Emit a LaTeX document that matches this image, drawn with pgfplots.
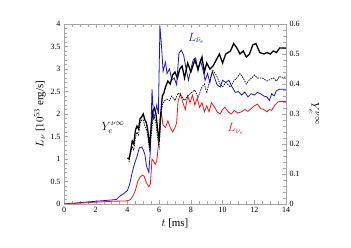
\documentclass[border=0pt]{standalone}
\usepackage{pgfplots}
\pgfplotsset{compat=1.18}
\usepackage{fontspec}
\setmainfont{Liberation Serif}
\definecolor{lblue}{RGB}{20,20,230}
\definecolor{lred}{RGB}{240,20,20}
\begin{document}
\begin{tikzpicture}
\pgfplotsset{
  every axis/.append style={
    scale only axis, width=222bp, height=180bp,
    at={(0,0)}, anchor=south west,
    axis line style={gray!70}, tick style={gray!70},
    tick align=inside,
    ticklabel style={font=\fontsize{8}{9}\selectfont},
    /pgf/number format/assume math mode=true,
    label style={font=\fontsize{11}{12}\selectfont},
  }
}
\begin{axis}[
  xmin=0, xmax=14, ymin=0, ymax=4,
  xtick={0,2,...,14}, minor x tick num=3,
  ytick={0,0.5,...,4}, minor y tick num=4,
  yticklabel style={/pgf/number format/fixed},
  ytick pos=left, xtick pos=both,
  xlabel={$t$ [ms]}, ylabel={$L_\nu$ [$10^{53}$ erg/s]},
  xlabel style={yshift=1pt},
  ylabel style={yshift=-2pt},
]
\addplot[lblue, line width=0.8pt] coordinates {
(0,0) (1,0.03) (2,0.06) (3,0.09) (3.3,0.10) (3.5,0.17) (3.8,0.24) (4.0,0.30)
(4.15,0.45) (4.3,0.70) (4.45,0.90) (4.6,1.05) (4.75,1.25) (4.9,1.27) (5.0,1.2)
(5.1,1.1) (5.2,0.85) (5.35,0.70) (5.45,1.2) (5.55,2.55) (5.65,1.9) (5.75,2.0)
(5.85,2.2) (5.95,2.0) (6.05,3.95) (6.15,3.5) (6.25,2.95) (6.4,3.15) (6.5,2.9)
(6.65,3.0) (6.8,2.75) (6.95,2.8) (7.1,2.65) (7.25,3.35) (7.4,3.42) (7.55,3.3)
(7.7,3.0) (7.85,2.75) (8.0,3.0) (8.15,3.2) (8.3,3.25) (8.45,2.95) (8.6,3.2)
(8.75,3.0) (8.9,2.75) (9.05,2.9) (9.2,2.7) (9.35,2.95) (9.5,2.8) (9.65,2.65)
(9.85,2.6) (10.0,2.75) (10.2,2.7) (10.4,2.75) (10.6,2.6) (10.8,2.48) (11.0,2.5)
(11.2,2.42) (11.4,2.49) (11.6,2.38) (11.8,2.45) (12.0,2.42) (12.2,2.48) (12.4,2.45)
(12.6,2.40) (12.8,2.38) (12.95,2.30) (13.1,2.45) (13.25,2.40) (13.4,2.52)
(13.6,2.55) (13.8,2.55) (14.0,2.55)
};
\addplot[lred, line width=0.8pt] coordinates {
(0,0) (1,0.02) (2,0.04) (3,0.06) (4.0,0.07) (4.2,0.10) (4.35,0.18) (4.5,0.3)
(4.65,0.5) (4.8,0.6) (4.95,0.64) (5.05,0.62) (5.2,0.47) (5.35,0.38) (5.45,0.45)
(5.55,1.0) (5.65,0.95) (5.75,0.88) (5.85,0.95) (5.95,1.3) (6.05,1.9) (6.15,2.0)
(6.25,1.75) (6.4,1.7) (6.55,1.85) (6.7,1.7) (6.85,1.6) (7.0,1.7) (7.1,1.8)
(7.2,2.3) (7.35,2.45) (7.5,2.25) (7.65,2.1) (7.8,2.4) (7.95,2.25) (8.1,2.42)
(8.25,2.2) (8.4,2.35) (8.55,2.15) (8.7,2.25) (8.85,2.05) (9.0,2.18) (9.15,2.05)
(9.3,2.25) (9.5,2.15) (9.65,2.05) (9.85,2.0) (10.0,2.1) (10.15,2.15) (10.35,2.05)
(10.55,2.0) (10.75,2.08) (10.95,2.02) (11.2,2.05) (11.4,2.1) (11.6,2.06)
(11.8,2.12) (12.0,2.18) (12.2,2.22) (12.4,2.12) (12.6,2.1) (12.8,2.05)
(12.95,2.1) (13.1,2.08) (13.3,2.2) (13.5,2.27) (13.7,2.28) (14.0,2.28)
};
\node[lblue, font=\fontsize{12}{13}\selectfont] at (axis cs:8.35,3.68) {$L_{\bar\nu_e}$};
\node[lred, font=\fontsize{12}{13}\selectfont] at (axis cs:10.85,1.66) {$L_{\nu_e}$};
\node[font=\fontsize{12}{13}\selectfont, inner sep=1pt] at (axis cs:3.1,1.7) {$Y_e^{\nu\infty}$};
\end{axis}
\begin{axis}[
  xmin=0, xmax=14, ymin=0, ymax=0.6, clip=false,
  axis x line=none, axis y line*=right,
  ytick={0,0.1,...,0.6}, minor y tick num=4,
  yticklabel style={/pgf/number format/fixed, /pgf/number format/precision=1},
]
\addplot[black, line width=1.3pt] coordinates {
(4.0,0.153) (4.1,0.150) (4.2,0.175) (4.3,0.21) (4.4,0.20) (4.5,0.245) (4.6,0.26)
(4.7,0.25) (4.8,0.285) (4.9,0.29) (5.0,0.30) (5.1,0.28) (5.2,0.27) (5.3,0.24)
(5.4,0.19) (5.5,0.26) (5.6,0.31) (5.7,0.32) (5.8,0.30) (5.9,0.25) (6.0,0.21)
(6.1,0.30) (6.2,0.36) (6.3,0.37) (6.4,0.39) (6.55,0.41) (6.7,0.40) (6.85,0.43)
(7.0,0.44) (7.15,0.42) (7.3,0.45) (7.45,0.46) (7.6,0.42) (7.8,0.47) (8.0,0.44)
(8.25,0.48) (8.45,0.45) (8.7,0.49) (8.85,0.44) (9.0,0.47) (9.2,0.45) (9.4,0.46)
(9.6,0.48) (9.8,0.50) (10.0,0.47) (10.2,0.50) (10.5,0.51) (10.7,0.535) (10.9,0.52)
(11.1,0.50) (11.3,0.51) (11.5,0.49) (11.7,0.50) (11.9,0.53) (12.1,0.535)
(12.35,0.505) (12.6,0.50) (12.8,0.505) (13.0,0.50) (13.2,0.51) (13.4,0.505)
(13.6,0.52) (13.8,0.52) (14.0,0.52)
};
\addplot[black, line width=0.7pt, dash pattern=on 1.5pt off 1pt] coordinates {
(4.1,0.14) (4.2,0.17) (4.3,0.19) (4.4,0.18) (4.5,0.22) (4.6,0.24) (4.7,0.23)
(4.8,0.27) (4.9,0.28) (5.0,0.28) (5.1,0.26) (5.2,0.25) (5.3,0.22) (5.4,0.18)
(5.5,0.23) (5.6,0.28) (5.7,0.29) (5.8,0.27) (5.9,0.22) (6.0,0.19) (6.1,0.28)
(6.2,0.33) (6.35,0.345) (6.5,0.35) (6.65,0.345) (6.8,0.36) (7.0,0.345) (7.2,0.37)
(7.4,0.36) (7.6,0.345) (7.8,0.36) (8.0,0.37) (8.25,0.38) (8.45,0.355) (8.7,0.39)
(8.85,0.40) (9.0,0.37) (9.2,0.415) (9.4,0.445) (9.6,0.43) (9.85,0.40) (10.0,0.39)
(10.2,0.405) (10.5,0.39) (10.7,0.41) (10.9,0.42) (11.1,0.435) (11.3,0.42)
(11.5,0.40) (11.7,0.415) (11.85,0.42) (12.0,0.43) (12.2,0.42) (12.5,0.42)
(12.8,0.41) (13.0,0.415) (13.2,0.42) (13.4,0.41) (13.6,0.425) (13.8,0.42) (14.0,0.425)
};
\node[font=\fontsize{11}{12}\selectfont, xshift=28bp, rotate=-90] at (rel axis cs:1,0.5) {$Y_e^{\nu\infty}$};
\end{axis}
\useasboundingbox (-64bp,-44bp) rectangle (287bp,204bp);
\end{tikzpicture}
\end{document}
